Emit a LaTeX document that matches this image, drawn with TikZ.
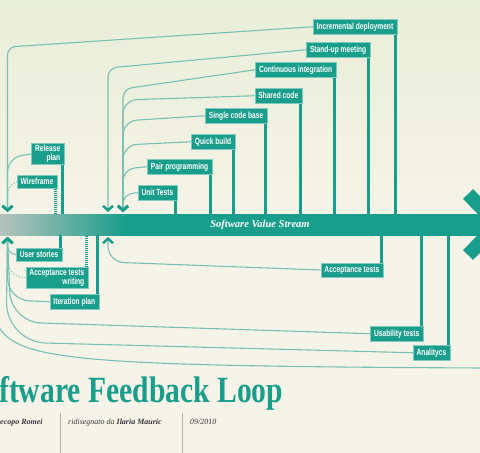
\documentclass[tikz,border=0pt]{standalone}
\usepackage{fontspec}
\setmainfont{Liberation Serif}
\newfontfamily\lblfont[FakeStretch=0.74]{Liberation Sans}
\newfontfamily\titlefont[FakeStretch=0.8]{Liberation Serif}
\usetikzlibrary{arrows.meta}

\definecolor{vsteal}{RGB}{26,158,140}
\definecolor{vsgray}{RGB}{182,195,189}
\definecolor{fbline}{RGB}{120,192,178}
\definecolor{bgcream}{RGB}{246,244,233}
\definecolor{bggreen}{RGB}{233,238,216}
\definecolor{inkgray}{RGB}{55,55,55}
\pgfdeclarehorizontalshading{streamshade}{100bp}{color(0bp)=(vsgray); color(25bp)=(vsgray); color(38bp)=(vsteal); color(100bp)=(vsteal)}

\begin{document}
\begin{tikzpicture}[x=1pt,y=-1pt,
    >={Straight Barb[length=4.5pt,width=10pt,line width=2.5pt,color=vsteal]},
    tag/.style={fill=vsteal, draw=vsteal!55!white, line width=0.5pt, text=white,
        font=\lblfont\bfseries\fontsize{9}{9.2}\selectfont,
        inner xsep=3.5pt, inner ysep=1.8pt, minimum height=15pt, align=right, anchor=north east},
    bar/.style={draw=vsteal, line width=3.4pt},
    hbar/.style={bar, dash pattern=on 1pt off 1pt},
    fb/.style={->, draw=fbline, line width=1.1pt, rounded corners=14pt},
    fbdot/.style={fb, dotted},
    band/.style={shading=streamshade, minimum width=480pt, minimum height=21pt, inner sep=0pt},
    sub/.style={font=\itshape\fontsize{8}{9}\selectfont, text=inkgray, inner sep=0pt, anchor=base west},
    sepline/.style={draw=black!30, line width=0.5pt},
]
\useasboundingbox (0,0) rectangle (480,453);
\clip (0,0) rectangle (480,453);
\shade[top color=bggreen, bottom color=bgcream, middle color=bgcream] (0,0) rectangle (480,453);

% ---- value stream ---------------------------------------------------
\node[band] (stream) at (240,224.5) {};
\draw[vsteal, line width=14pt, miter limit=10] (468,194) -- (498,224.5) -- (468,255);
\node[font=\bfseries\itshape\fontsize{10.5}{12}\selectfont, text=white] (streamlbl) at (260,225) {Software Value Stream};

% ---- practices above ------------------------------------------------
\node[tag] (inc) at (397,19) {Incremental deployment};
\node[tag] (stand) at (370,42) {Stand-up meeting};
\node[tag] (ci) at (336,62) {Continuous integration};
\node[tag] (shared) at (302,88) {Shared code};
\node[tag] (single) at (267,108) {Single code base};
\node[tag] (quick) at (235,134) {Quick build};
\node[tag] (pair) at (212,159) {Pair programming};
\node[tag] (unit) at (177,185) {Unit Tests};
\node[tag] (release) at (64,143) {Release\\plan};
\node[tag, minimum height=13pt] (wire) at (57,175) {Wireframe};

% ---- practices below ------------------------------------------------
\node[tag, minimum height=12.5pt] (user) at (62,248) {User stories};
\node[tag] (atw) at (88,267) {Acceptance tests\\writing};
\node[tag] (iter) at (99,294) {Iteration plan};
\node[tag, minimum height=13.5pt] (acc) at (383,263) {Acceptance tests};
\node[tag] (usab) at (423,326) {Usability tests};
\node[tag] (anal) at (450,345) {Analitycs};

% ---- bars into the stream -------------------------------------------
\foreach \n in {inc,stand,ci,shared,single,quick,pair,unit,release}
    \draw[bar] ([xshift=-1.7pt]\n.south east) -- ([xshift=-1.7pt]\n.south east |- stream.north);
\draw[hbar] ([xshift=-1.5pt]wire.south east) -- ([xshift=-1.5pt]wire.south east |- stream.north);
\foreach \n in {user,iter,acc,usab,anal}
    \draw[bar] ([xshift=-1.7pt]\n.north east) -- ([xshift=-1.7pt]\n.north east |- stream.south);
\draw[hbar] ([xshift=-1.5pt]atw.north east) -- ([xshift=-1.5pt]atw.north east |- stream.south);

% ---- feedback loops -------------------------------------------------
\coordinate (dnA) at (7.5,212);
\coordinate (dnB) at (108,212);
\coordinate (dnC) at (123,212);
\coordinate (upA) at (7.5,237);
\coordinate (upB) at (108,237);
\coordinate (offL) at (-4,322);
\coordinate (offR) at (484,368);

\draw[fb, rounded corners=8pt] (inc.west) -- (7.5,47) -- (dnA);
\draw[fb] (release.west) -- (7.5,158) -- (dnA);
\draw[fbdot, rounded corners=10pt] (wire.west) -- (7.5,184) -- (dnA);
\draw[fb, rounded corners=9pt] (stand.west) -- (108,68) -- (dnB);
\draw[fb, rounded corners=9pt] (ci.west) -- (123,89) -- (dnC);
\draw[fb] (shared.west) -- (123,100) -- (dnC);
\draw[fb] (single.west) -- (123,121) -- (dnC);
\draw[fb] (quick.west) -- (123,145) -- (dnC);
\draw[fb, rounded corners=12pt] (pair.west) -- (123,169) -- (dnC);
\draw[fb, rounded corners=10pt] (unit.west) -- (123,194) -- (dnC);

\draw[fb, rounded corners=8pt] (user.west) -- (7.5,254) -- (upA);
\draw[fbdot, rounded corners=16pt] (atw.west) -- (7.5,277) -- (upA);
\draw[fb, rounded corners=22pt] (iter.west) -- (7.5,300) -- (upA);
\draw[fb, rounded corners=16pt] (acc.west) -- (108,262) -- (upB);
\draw[fb, rounded corners=30pt] (usab.west) -- (11,322) -- (upA);
\draw[fb, rounded corners=40pt] (anal.west) -- (6,342) -- (upA);
\draw[fb, -] (offL) .. controls (15,360) and (60,366) .. (offR);

% ---- title block ----------------------------------------------------
\node[font=\titlefont\bfseries\fontsize{37}{39}\selectfont, text=vsteal, anchor=base west, inner sep=0pt] (title) at (-1,402) {ftware Feedback Loop};
\node[sub] (author) at (0,424) {\bfseries ecopo Romei};
\node[sub] (redraw) at (68,424) {ridisegnato da \textbf{Ilaria Mauric}};
\node[sub] (date) at (190,424) {09/2010};
\draw[sepline] (60,413) -- (60,453);
\draw[sepline] (182,413) -- (182,453);
\end{tikzpicture}
\end{document}
